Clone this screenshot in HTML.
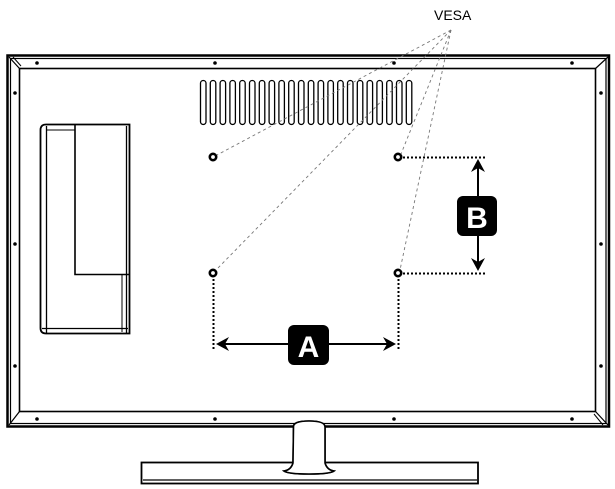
<!DOCTYPE html>
<html><head><style>html,body{margin:0;padding:0;background:#fff;}svg{display:block}</style></head>
<body>
<svg width="615" height="489" viewBox="0 0 615 489" xmlns="http://www.w3.org/2000/svg">
<rect width="615" height="489" fill="#fff"/>
<!-- frame -->
<g fill="none" stroke="#000">
<rect x="7.5" y="55.5" width="601.5" height="371" stroke-width="2.5"/>
<rect x="10.5" y="58.5" width="595.5" height="365" stroke-width="1.2"/>
<rect x="19.5" y="68.5" width="576" height="343" stroke-width="1.6"/>
<line x1="9" y1="57" x2="19.5" y2="68.5" stroke-width="1.2"/>
<line x1="13" y1="57" x2="21" y2="66" stroke-width="1"/>
<line x1="608" y1="57" x2="595.5" y2="68.5" stroke-width="1.2"/>
<line x1="608" y1="425" x2="595.5" y2="411.5" stroke-width="1.2"/>
<line x1="603" y1="425" x2="594" y2="414" stroke-width="1"/>
<line x1="9" y1="425" x2="19.5" y2="411.5" stroke-width="1.2"/>
</g>
<g fill="#000">
<circle cx="37" cy="63" r="1.8"/><circle cx="215" cy="63" r="1.8"/><circle cx="394" cy="63" r="1.8"/><circle cx="572" cy="63" r="1.8"/>
<circle cx="37" cy="419" r="1.8"/><circle cx="215" cy="419" r="1.8"/><circle cx="394" cy="419" r="1.8"/><circle cx="572" cy="419" r="1.8"/>
<circle cx="15" cy="93" r="1.8"/><circle cx="15" cy="244" r="1.8"/><circle cx="15" cy="366" r="1.8"/>
<circle cx="601" cy="93" r="1.8"/><circle cx="601" cy="244" r="1.8"/><circle cx="601" cy="366" r="1.8"/>
</g>
<!-- vents -->
<g fill="none" stroke="#000" stroke-width="1.3">
<rect x="200.5" y="80.5" width="5.5" height="44" rx="2.7"/><rect x="210.3" y="80.5" width="5.5" height="44" rx="2.7"/><rect x="220.1" y="80.5" width="5.5" height="44" rx="2.7"/><rect x="229.9" y="80.5" width="5.5" height="44" rx="2.7"/><rect x="239.7" y="80.5" width="5.5" height="44" rx="2.7"/><rect x="249.5" y="80.5" width="5.5" height="44" rx="2.7"/><rect x="259.3" y="80.5" width="5.5" height="44" rx="2.7"/><rect x="269.1" y="80.5" width="5.5" height="44" rx="2.7"/><rect x="278.9" y="80.5" width="5.5" height="44" rx="2.7"/><rect x="288.7" y="80.5" width="5.5" height="44" rx="2.7"/><rect x="298.5" y="80.5" width="5.5" height="44" rx="2.7"/><rect x="308.3" y="80.5" width="5.5" height="44" rx="2.7"/><rect x="318.1" y="80.5" width="5.5" height="44" rx="2.7"/><rect x="327.9" y="80.5" width="5.5" height="44" rx="2.7"/><rect x="337.7" y="80.5" width="5.5" height="44" rx="2.7"/><rect x="347.5" y="80.5" width="5.5" height="44" rx="2.7"/><rect x="357.3" y="80.5" width="5.5" height="44" rx="2.7"/><rect x="367.1" y="80.5" width="5.5" height="44" rx="2.7"/><rect x="376.9" y="80.5" width="5.5" height="44" rx="2.7"/><rect x="386.7" y="80.5" width="5.5" height="44" rx="2.7"/><rect x="396.5" y="80.5" width="5.5" height="44" rx="2.7"/><rect x="406.3" y="80.5" width="5.5" height="44" rx="2.7"/>
</g>
<!-- left bracket -->
<g fill="none" stroke="#000">
<path d="M40.5 130 Q40.5 124.5 46 124.5 L129.5 124.5 L129.5 333.5 L46 333.5 Q40.5 333.5 40.5 328 Z" stroke-width="1.8"/>
<line x1="46.5" y1="126" x2="46.5" y2="333" stroke-width="1.3"/>
<line x1="42" y1="328.5" x2="128" y2="328.5" stroke-width="1.3"/>
<line x1="126.5" y1="126" x2="126.5" y2="333" stroke-width="1.3"/>
<line x1="46" y1="130" x2="75" y2="130" stroke-width="1"/>
<path d="M75 124.5 L75 274.5 L129 274.5" stroke-width="1.6"/>
<line x1="122" y1="275" x2="122" y2="332" stroke-width="1"/>
</g>
<!-- stand -->
<g fill="none" stroke="#000">
<path d="M293.5 427 Q293 421 309 421 Q325 421 325 427 L325 463 Q327 470 334 471 Q330 474 309 474 Q288 474 284 471 Q291 470 293 463 Z" fill="#fff" stroke-width="1.6"/>
<line x1="294" y1="463" x2="325" y2="463" stroke-width="1"/>
<rect x="141.5" y="462.5" width="336.5" height="21" stroke-width="1.8"/>
<line x1="143" y1="480" x2="477" y2="480" stroke-width="1.2"/>
</g>
<path d="M293.5 427 Q293 421 309 421 Q325 421 325 427 L325 463 Q327 470 334 471 Q330 474 309 474 Q288 474 284 471 Q291 470 293 463 Z" fill="#fff" stroke="#000" stroke-width="1.6"/>
<!-- VESA lines -->
<g stroke="#777" stroke-width="0.9" stroke-dasharray="3,3" fill="none">
<line x1="451" y1="30" x2="217" y2="155"/>
<line x1="451" y1="30" x2="216" y2="270"/>
<line x1="451" y1="30" x2="401" y2="154"/>
<line x1="451" y1="30" x2="400" y2="270"/>
</g>
<text x="434" y="20" font-family="Liberation Sans, sans-serif" font-size="14" fill="#000">VESA</text>
<!-- holes -->
<g fill="#fff" stroke="#000" stroke-width="2.6">
<circle cx="213" cy="157" r="3.2"/><circle cx="398" cy="157" r="3.2"/><circle cx="213" cy="273" r="3.2"/><circle cx="398" cy="273" r="3.2"/>
</g>
<!-- dimension dotted lines -->
<g stroke="#000" stroke-width="2" stroke-dasharray="2,2" fill="none">
<line x1="403" y1="157.5" x2="486" y2="157.5"/>
<line x1="403" y1="273.5" x2="486" y2="273.5"/>
<line x1="213.5" y1="279" x2="213.5" y2="351"/>
<line x1="398.5" y1="279" x2="398.5" y2="351"/>
</g>
<g stroke="#000" stroke-width="2" fill="none">
<line x1="478" y1="164" x2="478" y2="266"/>
<line x1="220" y1="344" x2="392" y2="344"/>
</g>
<g fill="#000">
<path d="M478 159 L471 172 L478 168 L485 172 Z"/>
<path d="M478 271 L471 258 L478 262 L485 258 Z"/>
<path d="M216 344 L229 337 L225 344 L229 351 Z"/>
<path d="M396 344 L383 337 L387 344 L383 351 Z"/>
<rect x="457" y="196" width="40" height="40" rx="6"/>
<rect x="288" y="325" width="41" height="40" rx="6"/>
</g>
<text x="477" y="228" text-anchor="middle" font-family="Liberation Sans, sans-serif" font-weight="bold" font-size="30" fill="#fff">B</text>
<text x="308.5" y="357" text-anchor="middle" font-family="Liberation Sans, sans-serif" font-weight="bold" font-size="30" fill="#fff">A</text>
</svg>
</body></html>
